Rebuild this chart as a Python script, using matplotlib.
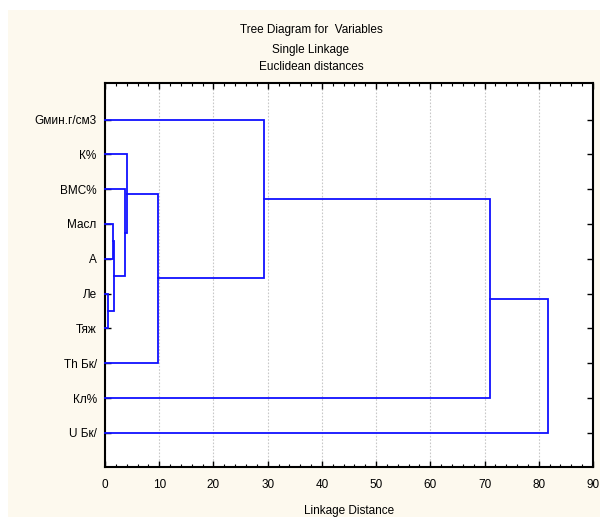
import matplotlib
matplotlib.use("Agg")
import matplotlib.pyplot as plt
from matplotlib.patches import Rectangle
from matplotlib.ticker import MultipleLocator

plt.rcParams['font.family'] = ['Liberation Sans', 'DejaVu Sans']

# leaves in display order (top to bottom)
labels = ['Gмин.г/см3', 'К%', 'ВМС%', 'Масл', 'А', 'Ле', 'Тяж', 'Th Бк/', 'Кл%', 'U Бк/']
# merges: (cluster a, cluster b, linkage distance); new clusters numbered from 10
merge_a = [5, 3, 11, 2, 1, 14, 0, 16, 17]
merge_b = [6, 4, 10, 12, 13, 7, 15, 8, 9]
merge_h = [0.5, 1.4, 1.7, 3.7, 4.1, 9.8, 29.4, 71.0, 81.7]

title_lines = ['Tree Diagram for  Variables', 'Single Linkage', 'Euclidean distances']
xlabel = 'Linkage Distance'

FS = 8.5

fig = plt.figure(figsize=(6.0, 5.17), dpi=100)
fig.patch.set_facecolor('white')
bg = Rectangle((8/600, 0), 1 - 8/600, 1 - 10/517, transform=fig.transFigure,
               facecolor='#fdf9ee', edgecolor='none', zorder=-10)
fig.add_artist(bg)

ax = fig.add_axes([105/600, 1 - 467/517, (593 - 105)/600, (467 - 83)/517])
ax.set_zorder(1)
ax.set_facecolor('white')

pos = {i: float(i + 1) for i in range(len(labels))}
hgt = {i: 0.0 for i in range(len(labels))}
col = '#1010ff'
for k, (a, b, h) in enumerate(zip(merge_a, merge_b, merge_h)):
    ya, yb = pos[a], pos[b]
    ax.plot([hgt[a], h, h, hgt[b]], [ya, ya, yb, yb], color=col, lw=1.3,
            solid_joinstyle='miter', zorder=3, clip_on=False)
    nid = len(labels) + k
    pos[nid] = (ya + yb) / 2
    hgt[nid] = h

ax.set_xlim(0, 90)
ax.set_ylim(10.98, -0.05)
ax.set_yticks(range(1, len(labels) + 1))
ax.set_yticklabels(labels, fontsize=FS)
ax.xaxis.set_major_locator(MultipleLocator(10))
ax.xaxis.set_minor_locator(MultipleLocator(2))
ax.tick_params(axis='x', which='major', direction='in', length=4, width=1, labelsize=FS,
               top=True, pad=9)
ax.tick_params(axis='x', which='minor', direction='in', length=2, width=0.8, top=True)
ax.tick_params(axis='y', which='major', direction='in', length=4, width=1, right=True, pad=6)
ax.grid(axis='x', which='major', color='#c8c8c8', linestyle=(0, (1.5, 1.5)), lw=0.8)
ax.set_axisbelow(True)
for s in ax.spines.values():
    s.set_linewidth(1.5)
    s.set_color('black')

ax.set_xlabel(xlabel, fontsize=FS, labelpad=10)

ys = [30, 50, 67]
for t, y in zip(title_lines, ys):
    fig.text(311/600, 1 - y/517, t, ha='center', va='center', fontsize=FS)

fig.savefig('out.png', dpi=100, facecolor=fig.get_facecolor())
